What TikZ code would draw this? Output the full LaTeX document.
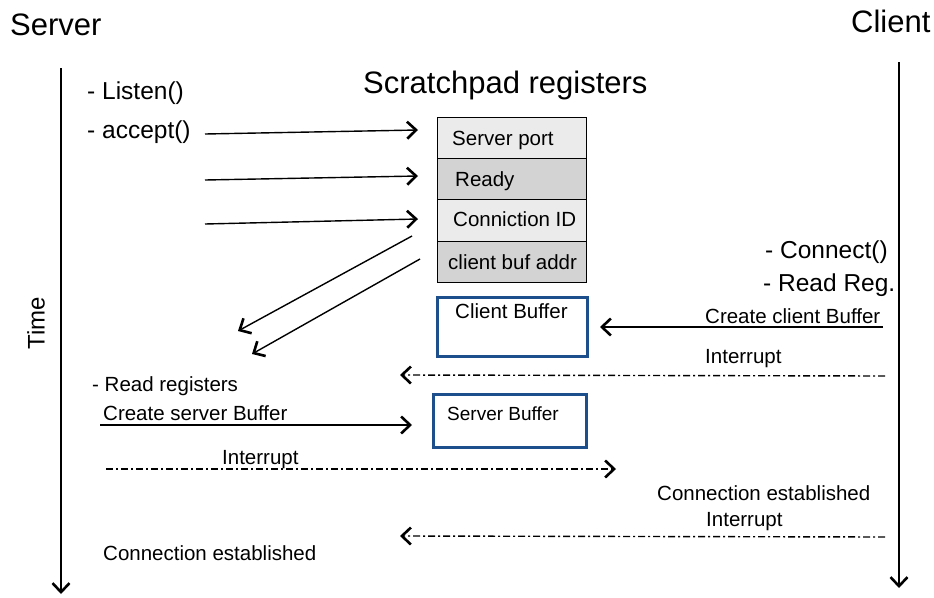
\documentclass[tikz,border=0pt]{standalone}
\usepackage{fontspec}
\setmainfont{Liberation Sans}
\usetikzlibrary{arrows.meta}
\definecolor{regLight}{HTML}{EBEBEB}
\definecolor{regDark}{HTML}{D3D3D3}
\definecolor{bufBlue}{HTML}{1D4F8C}
\begin{document}
\begin{tikzpicture}[x=1pt,y=-1pt,
  tip/.style={-{Straight Barb[length=9pt,width=17pt,line width=2.6pt]}},
  msg/.style={line width=1.4pt,tip},
  irq/.style={line width=1.4pt,tip,dash pattern=on 7pt off 3pt on 2pt off 3pt},
  title/.style={font=\fontsize{31}{35}\selectfont,inner sep=0pt,anchor=base west},
  big/.style={font=\fontsize{24.5}{28}\selectfont,inner sep=0pt,anchor=base west},
  lbl/.style={font=\fontsize{20.5}{24}\selectfont,inner sep=0pt,anchor=base west},
  reg/.style={draw,line width=1.2pt,minimum width=149pt,inner sep=0pt},
  buf/.style={draw=bufBlue,line width=3pt,inner sep=0pt}]
\useasboundingbox (0,0) rectangle (934,597);

% actors and time axes
\node[title] (srv) at (10,35) {Server};
\node[title] (cli) at (851,32) {Client};
\node[font=\fontsize{24}{28}\selectfont,rotate=90,inner sep=0pt] (time) at (36,323) {Time};
\coordinate (srvTop) at (61,68);
\coordinate (srvBot) at (61,594);
\coordinate (cliTop) at (899,62);
\coordinate (cliBot) at (899,588);
\draw[msg] (srvTop) -- (srvBot);
\draw[msg] (cliTop) -- (cliBot);

% scratchpad register block
\node[title] (sp) at (363,93) {Scratchpad registers};
\node[reg,fill=regLight,minimum height=41pt] (r1) at (512,138) {};
\node[reg,fill=regDark,minimum height=41pt] (r2) at (512,179) {};
\node[reg,fill=regLight,minimum height=42pt] (r3) at (512,220.5) {};
\node[reg,fill=regDark,minimum height=41pt] (r4) at (512,262) {};
\node[lbl] (t1) at (452,145) {Server port};
\node[lbl] (t2) at (455,186) {Ready};
\node[lbl] (t3) at (453,226) {Conniction ID};
\node[lbl] (t4) at (448,269) {client buf addr};

% server side actions
\node[big] (listen) at (87,99) {- Listen()};
\node[big] (accept) at (87,138) {- accept()};
\coordinate (a1s) at (205,134); \coordinate (a1e) at (418,130);
\coordinate (a2s) at (205,180); \coordinate (a2e) at (418,176);
\coordinate (a3s) at (205,224); \coordinate (a3e) at (418,219);
\draw[msg] (a1s) -- (a1e);
\draw[msg] (a2s) -- (a2e);
\draw[msg] (a3s) -- (a3e);
\coordinate (d1s) at (412,236); \coordinate (d1e) at (238,331);
\coordinate (d2s) at (420,259); \coordinate (d2e) at (252,354);
\draw[msg] (d1s) -- (d1e);
\draw[msg] (d2s) -- (d2e);

% client side actions
\node[big] (conn) at (765,258) {- Connect()};
\node[big] (rreg) at (763,291) {- Read Reg.};
\node[buf,minimum width=150pt,minimum height=59pt] (cbuf) at (512,326.5) {};
\node[lbl] (cbufT) at (455,318) {Client Buffer};
\node[lbl] (ccb) at (705,323) {Create client Buffer};
\coordinate (ccbS) at (883,327);
\coordinate (ccbE) at (600,327);
\draw[msg] (ccbS) -- (ccbE);
\node[lbl] (irq1) at (705,363) {Interrupt};
\coordinate (i1s) at (885,376); \coordinate (i1e) at (400,375);
\draw[irq] (i1s) -- (i1e);

% server buffer
\node[lbl] (rdr) at (92,391) {- Read registers};
\node[lbl] (csb) at (103,420) {Create server Buffer};
\coordinate (csbS) at (100,425); \coordinate (csbE) at (412,425);
\draw[msg] (csbS) -- (csbE);
\node[buf,minimum width=153pt,minimum height=53pt] (sbuf) at (509.5,421) {};
\node[lbl,font=\fontsize{19}{22}\selectfont] (sbufT) at (447,420) {Server Buffer};
\node[lbl] (irq2) at (222,464) {Interrupt};
\coordinate (i2s) at (106,469); \coordinate (i2e) at (616,469);
\draw[irq] (i2s) -- (i2e);

% connection established
\node[lbl] (ce1) at (657,500) {Connection established};
\node[lbl] (irq3) at (706,526) {Interrupt};
\coordinate (i3s) at (885,537); \coordinate (i3e) at (400,536);
\draw[irq] (i3s) -- (i3e);
\node[lbl] (ce2) at (103,560) {Connection established};
\end{tikzpicture}
\end{document}
